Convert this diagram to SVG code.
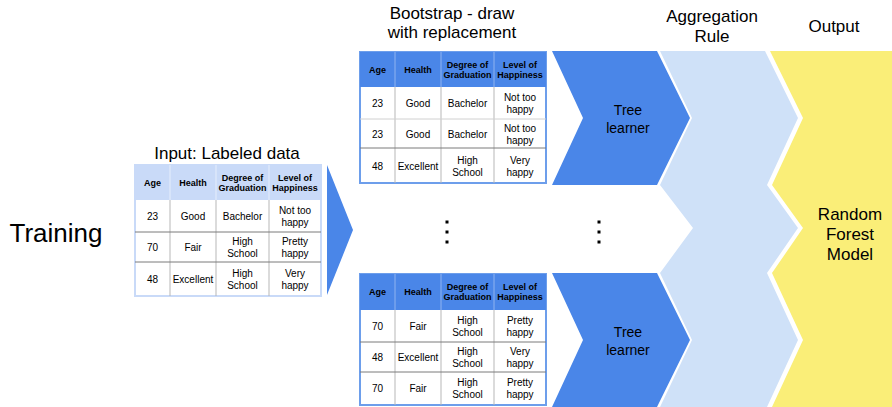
<svg xmlns="http://www.w3.org/2000/svg" width="892" height="407" viewBox="0 0 892 407">
<style>
text{font-family:"Liberation Sans",Arial,sans-serif;fill:#000}
.title{font-size:17px;text-anchor:middle}
.hd{font-size:9px;font-weight:bold;text-anchor:middle}
.bd{font-size:10px;text-anchor:middle}
.tl{font-size:14px;text-anchor:middle}
.vl{stroke:#b7b7b7;stroke-width:1}
.hl{stroke:#7a7a7a;stroke-width:1}
.hlf{stroke:#d0d0d0;stroke-width:1}
.dot{fill:#000}
</style>

<!-- Training label -->
<g id="training"><text x="56" y="242" style="font-size:26px;text-anchor:middle">Training</text></g>

<!-- Input table -->
<g id="input-table">
<text class="title" x="227" y="159">Input: Labeled data</text>
<rect x="135" y="165" width="186" height="131" fill="#fff" stroke="#c9daf8" stroke-width="2"/>
<rect x="135" y="165" width="186" height="35" fill="#c9daf8"/>
<line x1="170" y1="165" x2="170" y2="200" stroke="#e6eefc"/>
<line x1="216" y1="165" x2="216" y2="200" stroke="#e6eefc"/>
<line x1="269" y1="165" x2="269" y2="200" stroke="#e6eefc"/>
<line class="vl" x1="170" y1="200" x2="170" y2="296"/>
<line class="vl" x1="216" y1="200" x2="216" y2="296"/>
<line class="vl" x1="269" y1="200" x2="269" y2="296"/>
<line class="hl" x1="135" y1="232" x2="321" y2="232"/>
<line class="hl" x1="135" y1="262" x2="321" y2="262"/>
<text class="hd" x="152.5" y="186">Age</text>
<text class="hd" x="193" y="186">Health</text>
<text class="hd" x="242.5" y="181">Degree of</text>
<text class="hd" x="242.5" y="191">Graduation</text>
<text class="hd" x="295" y="181">Level of</text>
<text class="hd" x="295" y="191">Happiness</text>
<text class="bd" x="152.5" y="220">23</text>
<text class="bd" x="193" y="220">Good</text>
<text class="bd" x="242.5" y="220">Bachelor</text>
<text class="bd" x="295" y="214">Not too</text>
<text class="bd" x="295" y="226">happy</text>
<text class="bd" x="152.5" y="251">70</text>
<text class="bd" x="193" y="251">Fair</text>
<text class="bd" x="242.5" y="245">High</text>
<text class="bd" x="242.5" y="257">School</text>
<text class="bd" x="295" y="245">Pretty</text>
<text class="bd" x="295" y="257">happy</text>
<text class="bd" x="152.5" y="283">48</text>
<text class="bd" x="193" y="283">Excellent</text>
<text class="bd" x="242.5" y="277">High</text>
<text class="bd" x="242.5" y="289">School</text>
<text class="bd" x="295" y="277">Very</text>
<text class="bd" x="295" y="289">happy</text>
</g>

<!-- connectors / arrow shapes -->
<g id="connectors">
<polygon points="327,165 353,230 327,295" fill="#4a86e8"/>
<polygon points="552,51 657,51 690,118 657,185 552,185 583,118" fill="#4a86e8"/>
<polygon points="552,273 657,273 690,340 657,407 552,407 583,340" fill="#4a86e8"/>
</g>

<!-- Bootstrap title -->
<g id="bootstrap-title">
<text class="title" x="452" y="19">Bootstrap - draw</text>
<text class="title" x="452" y="38">with replacement</text>
</g>

<!-- Top bootstrap table -->
<g id="boot-table-1">
<rect x="360" y="52" width="186" height="131" fill="#fff" stroke="#6d9eeb" stroke-width="2"/>
<rect x="360" y="52" width="186" height="35" fill="#4a86e8"/>
<line x1="395" y1="52" x2="395" y2="87" stroke="#8fb3f0"/>
<line x1="441" y1="52" x2="441" y2="87" stroke="#8fb3f0"/>
<line x1="494" y1="52" x2="494" y2="87" stroke="#8fb3f0"/>
<line class="vl" x1="395" y1="87" x2="395" y2="183"/>
<line class="vl" x1="441" y1="87" x2="441" y2="183"/>
<line class="vl" x1="494" y1="87" x2="494" y2="183"/>
<line class="hlf" x1="360" y1="119" x2="546" y2="119"/>
<line class="hl" x1="360" y1="148" x2="546" y2="148"/>
<text class="hd" x="377.5" y="73">Age</text>
<text class="hd" x="418" y="73">Health</text>
<text class="hd" x="467.5" y="68">Degree of</text>
<text class="hd" x="467.5" y="78">Graduation</text>
<text class="hd" x="520" y="68">Level of</text>
<text class="hd" x="520" y="78">Happiness</text>
<text class="bd" x="377.5" y="107">23</text>
<text class="bd" x="418" y="107">Good</text>
<text class="bd" x="467.5" y="107">Bachelor</text>
<text class="bd" x="520" y="101">Not too</text>
<text class="bd" x="520" y="113">happy</text>
<text class="bd" x="377.5" y="138">23</text>
<text class="bd" x="418" y="138">Good</text>
<text class="bd" x="467.5" y="138">Bachelor</text>
<text class="bd" x="520" y="132">Not too</text>
<text class="bd" x="520" y="144">happy</text>
<text class="bd" x="377.5" y="170">48</text>
<text class="bd" x="418" y="170">Excellent</text>
<text class="bd" x="467.5" y="164">High</text>
<text class="bd" x="467.5" y="176">School</text>
<text class="bd" x="520" y="164">Very</text>
<text class="bd" x="520" y="176">happy</text>
</g>

<!-- Bottom bootstrap table -->
<g id="boot-table-2">
<rect x="360" y="274" width="186" height="131" fill="#fff" stroke="#6d9eeb" stroke-width="2"/>
<rect x="360" y="274" width="186" height="36" fill="#4a86e8"/>
<line x1="395" y1="274" x2="395" y2="310" stroke="#8fb3f0"/>
<line x1="441" y1="274" x2="441" y2="310" stroke="#8fb3f0"/>
<line x1="494" y1="274" x2="494" y2="310" stroke="#8fb3f0"/>
<line class="vl" x1="395" y1="310" x2="395" y2="405"/>
<line class="vl" x1="441" y1="310" x2="441" y2="405"/>
<line class="vl" x1="494" y1="310" x2="494" y2="405"/>
<line class="hl" x1="360" y1="342" x2="546" y2="342"/>
<line class="hl" x1="360" y1="372" x2="546" y2="372"/>
<text class="hd" x="377.5" y="295">Age</text>
<text class="hd" x="418" y="295">Health</text>
<text class="hd" x="467.5" y="290">Degree of</text>
<text class="hd" x="467.5" y="300">Graduation</text>
<text class="hd" x="520" y="290">Level of</text>
<text class="hd" x="520" y="300">Happiness</text>
<text class="bd" x="377.5" y="330">70</text>
<text class="bd" x="418" y="330">Fair</text>
<text class="bd" x="467.5" y="324">High</text>
<text class="bd" x="467.5" y="336">School</text>
<text class="bd" x="520" y="324">Pretty</text>
<text class="bd" x="520" y="336">happy</text>
<text class="bd" x="377.5" y="361">48</text>
<text class="bd" x="418" y="361">Excellent</text>
<text class="bd" x="467.5" y="355">High</text>
<text class="bd" x="467.5" y="367">School</text>
<text class="bd" x="520" y="355">Very</text>
<text class="bd" x="520" y="367">happy</text>
<text class="bd" x="377.5" y="392">70</text>
<text class="bd" x="418" y="392">Fair</text>
<text class="bd" x="467.5" y="386">High</text>
<text class="bd" x="467.5" y="398">School</text>
<text class="bd" x="520" y="386">Pretty</text>
<text class="bd" x="520" y="398">happy</text>
</g>

<!-- ellipsis dots -->
<g id="dots-left">
<rect class="dot" x="445.5" y="220.5" width="3" height="3"/>
<rect class="dot" x="445.5" y="230.5" width="3" height="3"/>
<rect class="dot" x="445.5" y="240.5" width="3" height="3"/>
</g>
<g id="dots-right">
<rect class="dot" x="597.5" y="220.5" width="3" height="3"/>
<rect class="dot" x="597.5" y="230.5" width="3" height="3"/>
<rect class="dot" x="597.5" y="240.5" width="3" height="3"/>
</g>

<!-- Tree learners labels -->
<g id="tree-learner-1">
<text class="tl" x="628" y="115">Tree</text>
<text class="tl" x="628" y="133">learner</text>
</g>
<g id="tree-learner-2">
<text class="tl" x="628" y="337">Tree</text>
<text class="tl" x="628" y="355">learner</text>
</g>

<!-- Aggregation rule -->
<g id="aggregation">
<polygon points="660,51 765,51 798,118 767,185 798,228 767,273 798,340 767,407 660,407 692,340 660,273 693,228 660,185 692,118" fill="#cfe1f8"/>
<text class="title" x="712" y="22">Aggregation</text>
<text class="title" x="712" y="42">Rule</text>
</g>

<!-- Output -->
<g id="output">
<polygon points="770,51 892,51 892,407 772,407 803,340 772,273 803,228 772,185 803,118" fill="#faee78"/>
<text class="title" x="834" y="32">Output</text>
<text class="title" x="850" y="220">Random</text>
<text class="title" x="850" y="240">Forest</text>
<text class="title" x="850" y="260">Model</text>
</g>
</svg>
